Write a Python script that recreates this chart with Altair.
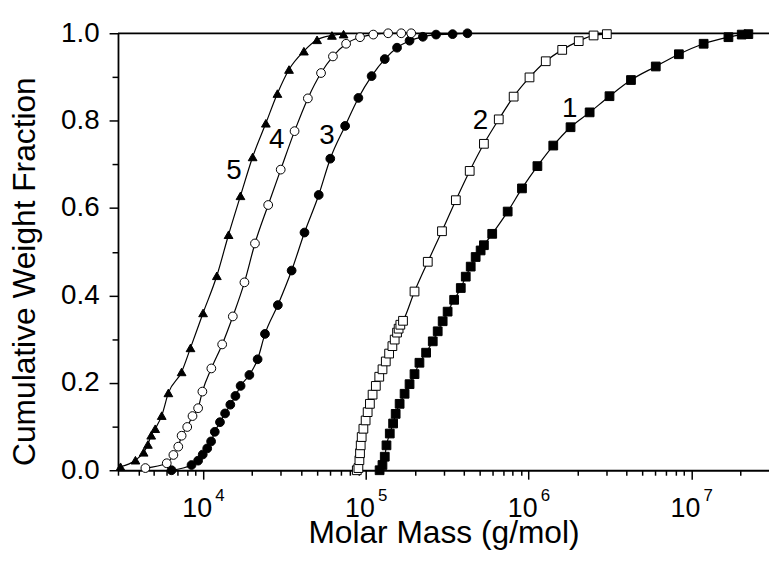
import altair as alt
import pandas as pd

# ---- data (molar mass g/mol, cumulative weight fraction)
s1_mass = [121500, 126500, 130700, 133900, 140300, 147100, 152500, 161300, 173000, 185600,
           199100, 213500, 234600, 257700, 276400, 296500, 318000, 348800, 383200, 411100,
           440900, 472900, 507400, 531500, 597700, 743900, 910600, 1133000, 1418000, 1810000,
           2372000, 3141000, 4257000, 6045000, 8383000, 11900000, 16900000, 20400000, 22400000]
s1_frac = [0.0, 0.012, 0.031, 0.057, 0.084, 0.107, 0.129, 0.152, 0.175, 0.197,
           0.220, 0.246, 0.269, 0.295, 0.318, 0.341, 0.363, 0.390, 0.417, 0.443,
           0.466, 0.488, 0.503, 0.515, 0.541, 0.592, 0.645, 0.696, 0.743, 0.785,
           0.819, 0.856, 0.893, 0.924, 0.952, 0.976, 0.991, 0.997, 0.998]

s2_mass = [88000, 90000, 91300, 92100, 93000, 94300, 96600, 99700, 102600, 105900,
           110000, 115200, 120900, 126600, 132600, 139000, 145600, 150400, 155500, 159000,
           162900, 169200, 199100, 240200, 293600, 357300, 434700, 531500, 655800, 809400,
           1013000, 1275000, 1609000, 2033000, 2508000, 3025000]
s2_frac = [0.0, 0.005, 0.023, 0.039, 0.057, 0.076, 0.095, 0.114, 0.133, 0.152,
           0.173, 0.193, 0.214, 0.231, 0.249, 0.267, 0.284, 0.299, 0.315, 0.324,
           0.333, 0.342, 0.409, 0.477, 0.547, 0.618, 0.685, 0.747, 0.803, 0.855,
           0.899, 0.936, 0.962, 0.982, 0.995, 0.998]

s3_mass = [6400, 8490, 9320, 9950, 10600, 11200, 11800, 12700, 13650, 14700,
           15800, 17000, 19250, 21630, 24000, 28800, 35000, 41980,
           51350, 60460, 74600, 90000, 108500, 130700, 155500, 185600, 224000, 270000,
           341200, 421000]
s3_frac = [0.0, 0.012, 0.022, 0.036, 0.050, 0.066, 0.088, 0.110, 0.130, 0.150,
           0.170, 0.193, 0.218, 0.254, 0.312, 0.378, 0.457, 0.544,
           0.630, 0.713, 0.788, 0.852, 0.902, 0.941, 0.967, 0.983, 0.992, 0.997,
           0.998, 1.0]

s4_mass = [4420, 5980, 6570, 7040, 7380, 7990, 8610, 9320, 9900, 11240,
           13100, 15230, 17950, 20830, 25120, 29990, 36480, 44030, 53050, 62790,
           75640, 92100, 111100, 137100, 165000, 190000]
s4_frac = [0.005, 0.016, 0.035, 0.054, 0.079, 0.099, 0.124, 0.142, 0.180, 0.233,
           0.288, 0.352, 0.430, 0.519, 0.607, 0.688, 0.776, 0.851, 0.909, 0.947,
           0.976, 0.991, 0.997, 1.0, 1.0, 1.0]

s5_mass = [3110, 3840, 4310, 4580, 4800, 5080, 5570, 6120, 7380, 8370,
           10000, 12150, 14340, 16970, 20160, 24300, 28630, 33730, 41630, 50160,
           61900, 72950]
s5_frac = [0.008, 0.023, 0.041, 0.059, 0.080, 0.095, 0.125, 0.177, 0.225, 0.280,
           0.360, 0.445, 0.539, 0.628, 0.717, 0.794, 0.862, 0.917, 0.959, 0.985,
           0.995, 0.998]

series_ids = ["1", "2", "3", "4", "5"]
series_shapes = ["square", "square", "circle", "circle", "triangle-up"]
series_fills = ["black", "white", "black", "white", "black"]
series_sizes = [78, 78, 100, 100, 165]

label_text = ["1", "2", "3", "4", "5"]
label_mass = [1792000, 507000, 57700, 28350, 15490]
label_frac = [0.826, 0.799, 0.765, 0.756, 0.684]

x_tick_values = [3000, 4000, 5000, 6000, 7000, 8000, 9000,
                 10000, 20000, 30000, 40000, 50000, 60000, 70000, 80000, 90000,
                 100000, 200000, 300000, 400000, 500000, 600000, 700000, 800000, 900000,
                 1000000, 2000000, 3000000, 4000000, 5000000, 6000000, 7000000, 8000000, 9000000,
                 10000000, 20000000]
x_major_values = [10000, 100000, 1000000, 10000000]
y_tick_values = [0.0, 0.1, 0.2, 0.3, 0.4, 0.5, 0.6, 0.7, 0.8, 0.9, 1.0]

# ---- tables
rows = []
for sid, ms, fs in zip(series_ids, [s1_mass, s2_mass, s3_mass, s4_mass, s5_mass],
                       [s1_frac, s2_frac, s3_frac, s4_frac, s5_frac]):
    for m, f in zip(ms, fs):
        rows.append({"series": sid, "mass": m, "frac": f})
df = pd.DataFrame(rows)
labels_df = pd.DataFrame({"text": label_text, "mass": label_mass, "frac": label_frac})

FONT = "Liberation Sans"
W, H = 657, 441

xscale = alt.Scale(type="log", domain=[3000, 30000000], nice=False)
yscale = alt.Scale(domain=[0, 1], nice=False)

major_test = "indexof([10000,100000,1000000,10000000], datum.value) >= 0"
exp_expr = "format(round(log(datum.value)/log(10)), 'd')"

main_x_axis = alt.Axis(
    values=x_tick_values,
    labelExpr=f"{major_test} ? '10' : ''",
    tickSize={"condition": {"test": major_test, "value": 9}, "value": 5},
    tickWidth=1.5, tickColor="black",
    domainColor="black", domainWidth=1.8,
    labelFont=FONT, labelFontSize=27, labelColor="black",
    labelBaseline="alphabetic", labelPadding=38, labelOffset=-6.5,
    labelOverlap=False, labelFlush=False,
    grid=False,
    title="Molar Mass (g/mol)", titleFont=FONT, titleFontSize=32,
    titleFontWeight="normal", titleColor="black",
    titleBaseline="alphabetic", titleY=73,
    orient="bottom",
)

exp_x_axis = alt.Axis(
    values=x_major_values,
    labelExpr=exp_expr,
    ticks=False, tickSize=0, domain=False, grid=False,
    labelFont=FONT, labelFontSize=17, labelColor="black",
    labelBaseline="alphabetic", labelPadding=31, labelOffset=16.5,
    labelOverlap=False, labelFlush=False,
    title=None, orient="bottom",
)

y_axis = alt.Axis(
    values=y_tick_values,
    labelExpr="round(datum.value*10) % 2 == 0 ? format(datum.value, '.1f') : ''",
    tickSize={"condition": {"test": "round(datum.value*10) % 2 == 0", "value": 9}, "value": 6},
    tickWidth=1.5, tickColor="black",
    domainColor="black", domainWidth=1.8,
    labelFont=FONT, labelFontSize=28, labelColor="black",
    labelPadding=10, labelOverlap=False, labelFlush=False,
    grid=False,
    title="Cumulative Weight Fraction", titleFont=FONT, titleFontSize=32,
    titleFontWeight="normal", titleColor="black",
    titleBaseline="alphabetic", titleX=-84, titleY=240,
)

y_enc = alt.Y("frac:Q", scale=yscale, axis=y_axis)

lines = alt.Chart(df).mark_line(color="black", strokeWidth=1.2, interpolate="monotone").encode(
    x=alt.X("mass:Q", scale=xscale, axis=main_x_axis),
    y=y_enc,
    detail="series:N",
)

points = alt.Chart(df).mark_point(filled=True, stroke="black", strokeWidth=1, opacity=1).encode(
    x=alt.X("mass:Q", scale=xscale, axis=None),
    y=y_enc,
    shape=alt.Shape("series:N", scale=alt.Scale(domain=series_ids, range=series_shapes), legend=None),
    fill=alt.Fill("series:N", scale=alt.Scale(domain=series_ids, range=series_fills), legend=None),
    size=alt.Size("series:N", scale=alt.Scale(domain=series_ids, range=series_sizes), legend=None),
)

text = alt.Chart(labels_df).mark_text(font=FONT, fontSize=28, color="black",
                                       align="center", baseline="middle").encode(
    x=alt.X("mass:Q", scale=xscale, axis=exp_x_axis),
    y=alt.Y("frac:Q", scale=yscale, axis=y_axis),
    text="text:N",
)

top_line = alt.Chart(pd.DataFrame({"v": [1.0]})).mark_rule(color="black", strokeWidth=1.8).encode(
    y=alt.Y("v:Q", scale=yscale, axis=y_axis),
)

chart = alt.layer(top_line, lines, points, text).resolve_axis(x="independent").properties(
    width=W, height=H,
    autosize=alt.AutoSizeParams(type="none"),
    padding={"left": 111, "top": 23, "right": 0, "bottom": 80},
).configure_view(stroke=None).configure(font=FONT)

chart.save("out.html", embed_options={"renderer": "svg", "actions": False})
